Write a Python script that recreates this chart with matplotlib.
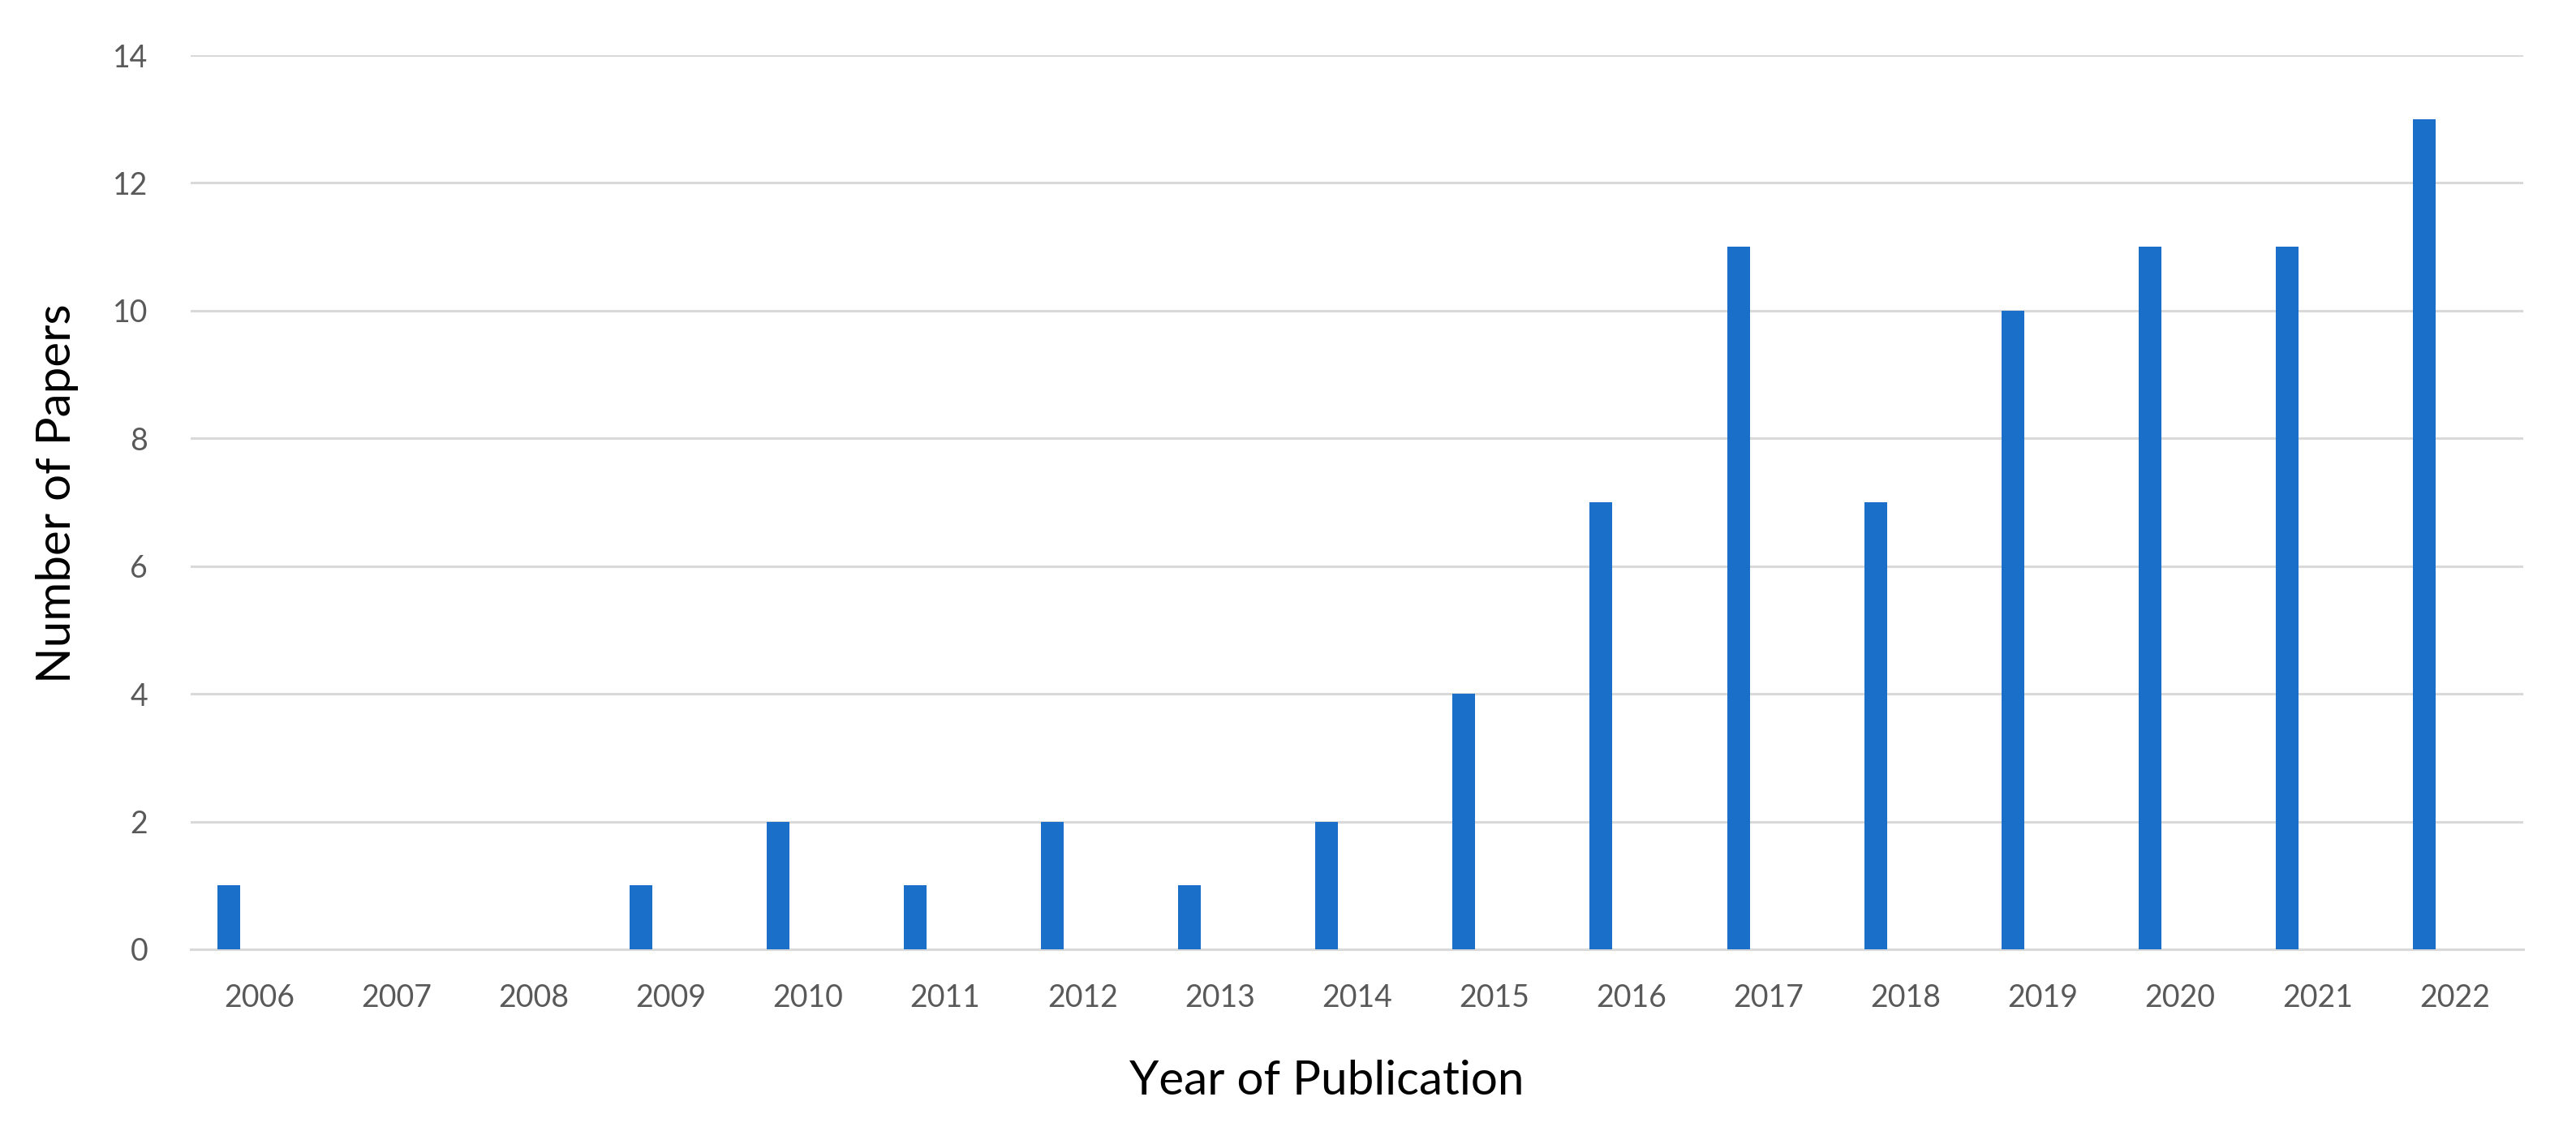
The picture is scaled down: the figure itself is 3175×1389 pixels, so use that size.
import matplotlib
matplotlib.use('Agg')
import matplotlib.pyplot as plt
import numpy as np

# papers per year
years = ['2006', '2007', '2008', '2009', '2010', '2011', '2012', '2013', '2014',
         '2015', '2016', '2017', '2018', '2019', '2020', '2021', '2022']
papers = [1, 0, 0, 1, 2, 1, 2, 1, 2, 4, 7, 11, 7, 10, 11, 11, 13]
yticks = [0, 2, 4, 6, 8, 10, 12, 14]

plt.rcParams['font.family'] = ['Lato', 'DejaVu Sans']

fig = plt.figure(figsize=(31.75, 13.89), dpi=100)
ax = fig.add_axes([0.0740, 0.1577, 0.9055, 0.7933])

x = np.arange(len(years))
# bars sit left of the category centre (excel clustered look)
ax.bar(x - 0.22, papers, width=0.166, color='#1A70C8', zorder=3)

ax.set_xlim(-0.5, len(years) - 0.5)
ax.set_ylim(0, 14)
ax.set_yticks(yticks)
ax.set_xticks(x)
ax.set_xticklabels(years)

ax.grid(axis='y', color='#D9D9D9', linewidth=2.2, zorder=0)
for s in ['top', 'right', 'left']:
    ax.spines[s].set_visible(False)
ax.spines['bottom'].set_color('#D9D9D9')
ax.spines['bottom'].set_linewidth(2.2)

ax.tick_params(axis='both', length=0, labelsize=27, colors='#595959')
ax.tick_params(axis='x', pad=30)
ax.tick_params(axis='y', pad=38)

ax.set_xlabel('Year of Publication', fontsize=42, color='black', labelpad=42)
ax.set_ylabel('Number of Papers', fontsize=42, color='black', labelpad=30)
# labels are not centred on the plot area in the original
ax.xaxis.label.set_x(0.487)
ax.yaxis.label.set_y(0.51)

fig.savefig('out.png', dpi=100, facecolor='white')
